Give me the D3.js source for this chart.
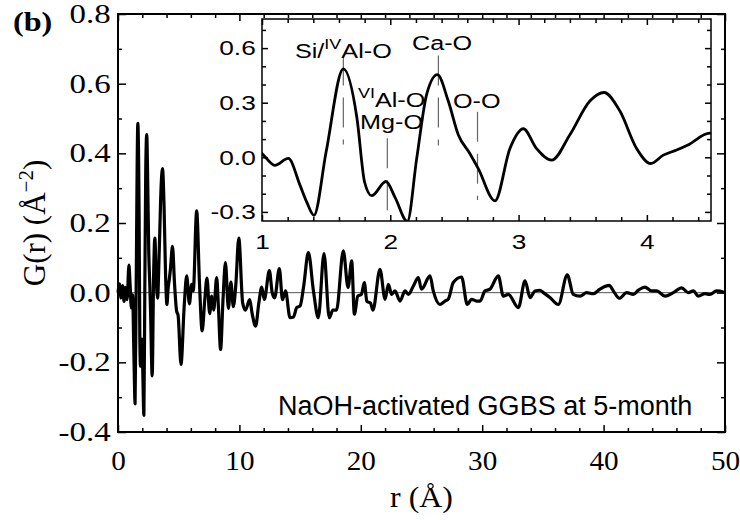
<!DOCTYPE html>
<html>
<head>
<meta charset="utf-8">
<script src="https://cdn.jsdelivr.net/npm/d3@7"></script>
<style>
  body { margin: 0; background: #fff; }
  svg { display: block; }
</style>
</head>
<body>
<svg id="chart" width="740" height="520"></svg>
<script>

// G(r): r in Angstrom, G in A^-2
var rVals = [0, 0.12, 0.25, 0.38, 0.5, 0.62, 0.75, 0.9, 1.0, 1.1, 1.205, 1.296, 1.348, 1.405, 1.5, 1.634, 1.74, 1.8, 1.855, 1.966,
  2.037, 2.133, 2.206, 2.284, 2.367, 2.452, 2.53, 2.62, 2.686, 2.816, 2.933, 3.037, 3.139, 3.258, 3.4, 3.556, 3.666, 3.79, 3.92, 4.03,
  4.128, 4.232, 4.32, 4.49, 4.65, 4.83, 4.95, 5.19, 5.45, 5.66, 5.88, 6.07, 6.2, 6.48, 6.72, 6.93, 7.15, 7.33, 7.55, 7.72,
  7.88, 8.13, 8.27, 8.45, 8.65, 8.85, 9.09, 9.3, 9.5, 9.7, 9.95, 10.27, 10.5, 10.85, 11.05, 11.34, 11.6, 11.84, 12.05, 12.47,
  12.7, 12.9, 13.29, 13.55, 13.8, 14.17, 14.45, 14.72, 15.0, 15.3, 15.68, 16.1, 16.5, 16.97, 17.4, 17.7, 18.0, 18.56, 18.95, 19.25,
  19.47, 19.75, 20.05, 20.29, 20.5, 20.8, 21.0, 21.58, 22.0, 22.27, 22.54, 22.82, 23.23, 23.64, 23.92, 24.33, 24.74, 25.0, 25.7, 25.97,
  26.52, 26.94, 27.2, 27.62, 28.3, 28.77, 29.13, 29.54, 29.82, 30.23, 30.64, 31.33, 31.74, 32.15, 32.98, 33.53, 33.94, 34.35, 34.76, 35.04,
  35.58, 36.27, 37.01, 37.5, 38.06, 38.6, 39.15, 39.7, 40.46, 40.8, 41.3, 41.9, 42.45, 42.9, 43.4, 43.96, 44.37, 45.06, 45.74, 46.43,
  46.98, 47.4, 47.8, 48.35, 48.76, 49.3, 49.86, 50];
var gVals = [0, 0.025, -0.015, 0.02, -0.025, 0.015, -0.02, 0.079, 0.021, -0.044, -0.006, -0.153, -0.245, -0.319, 0.03, 0.486, 0.216, -0.137, -0.211, -0.133,
  -0.22, -0.352, -0.006, 0.347, 0.454, 0.309, 0.124, 0.021, -0.062, -0.239, 0.049, 0.157, 0.049, -0.016, 0.124, 0.309, 0.356, 0.254, 0.049, -0.034,
  0.012, 0.04, 0.068, 0.133, 0.03, -0.053, -0.065, -0.206, -0.04, 0.048, -0.032, 0.024, 0.005, 0.235, 0.02, -0.11, -0.02, 0.042, -0.06, -0.01,
  -0.05, 0.043, -0.04, -0.163, -0.02, 0.086, -0.045, 0.03, -0.04, 0.02, 0.157, -0.03, -0.05, -0.02, -0.06, -0.096, -0.03, 0.016, -0.02, 0.063,
  0.0, -0.015, 0.069, -0.02, 0.005, -0.072, -0.07, -0.043, -0.038, 0.02, 0.115, 0.005, -0.072, 0.112, -0.072, -0.05, -0.05, 0.12, 0.015, 0.091,
  -0.062, -0.01, -0.005, 0.029, -0.025, -0.03, -0.05, 0.067, -0.019, 0.024, -0.005, 0.005, -0.024, 0.005, -0.005, 0.019, 0.043, 0.01, 0.048, 0.005,
  -0.034, -0.024, -0.019, 0.029, 0.045, -0.034, -0.019, -0.024, -0.024, 0.005, 0.01, 0.048, -0.01, -0.005, -0.043, 0.034, -0.014, 0.005, 0.007, 0.0,
  -0.014, -0.034, 0.051, -0.005, -0.01, 0.0, -0.003, 0.01, 0.021, 0.005, -0.016, 0.0, -0.005, 0.008, 0.016, 0.005, 0.005, -0.01, 0.0, 0.014,
  0.0, 0.005, -0.01, -0.003, -0.005, 0.005, 0.002, 0];

var xTickVals = [0, 10, 20, 30, 40, 50];
var yTickVals = [-0.4, -0.2, 0, 0.2, 0.4, 0.6, 0.8];
var insetXTickVals = [1, 2, 3, 4];
var insetYTickVals = [-0.3, 0, 0.3, 0.6];

// bond markers in the inset (dashed lines)
var bondR      = [1.634, 1.977, 2.375, 2.68];
var bondTop    = [0.56, 0.105, 0.56, 0.25];
var bondBottom = [0.07, -0.35, 0.065, -0.235];

// inset labels, ^...^ is superscript
var labelText = ['Si/^IV^Al-O', '^VI^Al-O', 'Mg-O', 'Ca-O', 'O-O'];
var labelR    = [1.257, 1.748, 1.764, 2.169, 2.489];
var labelG    = [0.546, 0.278, 0.158, 0.59, 0.271];

var sampleText = 'NaOH-activated GGBS at 5-month';

var data = rVals.map(function(r, i) { return { r: r, g: gVals[i] }; });

var svg = d3.select('#chart');
var serif = '"Liberation Serif", "Times New Roman", serif';
var sans = '"Liberation Sans", Arial, Helvetica, sans-serif';

// plain hyphen for negatives, like the original figure
var fmt1 = function(v) { return d3.format('.1f')(v).replace('−', '-'); };

/* ======================================
 * Main plot
 */
var x = d3.scaleLinear().domain([0, 50]).range([118, 725]);
var y = d3.scaleLinear().domain([-0.4, 0.8]).range([432, 14]);

var xMinor = d3.range(0, 50.001, 2).filter(function(v) { return v % 10 !== 0; });
var yMinor = d3.range(-0.3, 0.8, 0.2).map(function(v) { return +v.toFixed(1); });

function drawAxis(axis, transform, fontSize, k, family) {
  var g = svg.append('g').attr('transform', transform).call(axis);
  g.select('.domain').remove();
  g.selectAll('line').attr('stroke', '#000').attr('stroke-width', 1.5);
  g.selectAll('text')
    .attr('fill', '#000')
    .style('font-family', family)
    .style('font-size', fontSize + 'px')
    .attr('transform', 'scale(' + k + ',1)');
  return g;
}

var mainFont = 27, mainK = 1.22;

drawAxis(d3.axisBottom(x).tickValues(xTickVals).tickSizeInner(-7).tickSizeOuter(0).tickPadding(19)
  .tickFormat(d3.format('d')), 'translate(0,' + y(-0.4) + ')', mainFont, 1.08, serif);
drawAxis(d3.axisBottom(x).tickValues(xMinor).tickSizeInner(-4).tickSizeOuter(0).tickFormat(''),
  'translate(0,' + y(-0.4) + ')', mainFont, 1, serif);
drawAxis(d3.axisTop(x).tickValues(xTickVals).tickSizeInner(-7).tickSizeOuter(0).tickFormat(''),
  'translate(0,' + y(0.8) + ')', mainFont, 1, serif);
drawAxis(d3.axisTop(x).tickValues(xMinor).tickSizeInner(-4).tickSizeOuter(0).tickFormat(''),
  'translate(0,' + y(0.8) + ')', mainFont, 1, serif);

drawAxis(d3.axisLeft(y).tickValues(yTickVals).tickSizeInner(-8).tickSizeOuter(0).tickPadding(6)
  .tickFormat(fmt1), 'translate(' + x(0) + ',0)', mainFont, mainK, serif);
drawAxis(d3.axisLeft(y).tickValues(yMinor).tickSizeInner(-4).tickSizeOuter(0).tickFormat(''),
  'translate(' + x(0) + ',0)', mainFont, 1, serif);
drawAxis(d3.axisRight(y).tickValues(yTickVals).tickSizeInner(-8).tickSizeOuter(0).tickFormat(''),
  'translate(' + x(50) + ',0)', mainFont, 1, serif);
drawAxis(d3.axisRight(y).tickValues(yMinor).tickSizeInner(-4).tickSizeOuter(0).tickFormat(''),
  'translate(' + x(50) + ',0)', mainFont, 1, serif);

// zero line
svg.append('line')
  .attr('x1', x(0)).attr('x2', x(50))
  .attr('y1', y(0)).attr('y2', y(0))
  .attr('stroke', '#555').attr('stroke-width', 1);

var mainLine = d3.line()
  .x(function(d) { return x(d.r); })
  .y(function(d) { return y(d.g); })
  .curve(d3.curveMonotoneX);

svg.append('path')
  .datum(data)
  .attr('d', mainLine)
  .attr('fill', 'none')
  .attr('stroke', '#000')
  .attr('stroke-width', 3.2)
  .attr('stroke-linejoin', 'round');

svg.append('rect')
  .attr('x', x(0)).attr('y', y(0.8))
  .attr('width', x(50) - x(0)).attr('height', y(-0.4) - y(0.8))
  .attr('fill', 'none').attr('stroke', '#000').attr('stroke-width', 2);

// axis titles
svg.append('text')
  .attr('transform', 'translate(' + ((x(0) + x(50)) / 2) + ',507) scale(1.1,1)')
  .attr('text-anchor', 'middle')
  .style('font-family', serif).style('font-size', '29px')
  .text('r (Å)');

var yTitle = svg.append('text')
  .attr('transform', 'translate(45,' + ((y(0.8) + y(-0.4)) / 2) + ') rotate(-90)')
  .attr('text-anchor', 'middle')
  .style('font-family', serif).style('font-size', '31px');
yTitle.append('tspan').text('G(r)  (Å');
yTitle.append('tspan').attr('dy', -12).style('font-size', '21px').text('−2');
yTitle.append('tspan').attr('dy', 12).text(')');

svg.append('text')
  .attr('transform', 'translate(13,31) scale(1.15,1)')
  .style('font-family', serif).style('font-size', '28px').style('font-weight', 'bold')
  .text('(b)');

svg.append('text')
  .attr('transform', 'translate(' + x(47.3) + ',' + y(-0.352) + ')')
  .attr('text-anchor', 'end')
  .style('font-family', sans).style('font-size', '27px')
  .text(sampleText);

/* ======================================
 * Inset: 1 - 4.5 A
 */
var xi = d3.scaleLinear().domain([1, 4.5]).range([262, 711]);
var yi = d3.scaleLinear().domain([-0.35, 0.76]).range([221, 19]);

var xiMinor = d3.range(1, 4.501, 0.2).map(function(v) { return +v.toFixed(1); })
  .filter(function(v) { return v % 1 !== 0; });
var yiMinor = d3.range(-0.3, 0.75, 0.1).map(function(v) { return +v.toFixed(1); })
  .filter(function(v) { return Math.abs(Math.round(v * 10) % 3) !== 0; });

svg.append('rect')
  .attr('x', xi(1)).attr('y', yi(0.76))
  .attr('width', xi(4.5) - xi(1)).attr('height', yi(-0.35) - yi(0.76))
  .attr('fill', '#fff');

svg.append('clipPath').attr('id', 'inset-clip')
  .append('rect')
  .attr('x', xi(1)).attr('y', yi(0.76))
  .attr('width', xi(4.5) - xi(1)).attr('height', yi(-0.35) - yi(0.76));

var insetFont = 21, insetK = 1.25;

drawAxis(d3.axisBottom(xi).tickValues(insetXTickVals).tickSizeInner(-6).tickSizeOuter(0).tickPadding(13)
  .tickFormat(d3.format('d')), 'translate(0,' + yi(-0.35) + ')', insetFont, insetK, sans);
drawAxis(d3.axisBottom(xi).tickValues(xiMinor).tickSizeInner(-4).tickSizeOuter(0).tickFormat(''),
  'translate(0,' + yi(-0.35) + ')', insetFont, 1, sans);
drawAxis(d3.axisTop(xi).tickValues(insetXTickVals).tickSizeInner(-6).tickSizeOuter(0).tickFormat(''),
  'translate(0,' + yi(0.76) + ')', insetFont, 1, sans);
drawAxis(d3.axisTop(xi).tickValues(xiMinor).tickSizeInner(-4).tickSizeOuter(0).tickFormat(''),
  'translate(0,' + yi(0.76) + ')', insetFont, 1, sans);
drawAxis(d3.axisLeft(yi).tickValues(insetYTickVals).tickSizeInner(-6).tickSizeOuter(0).tickPadding(5)
  .tickFormat(fmt1), 'translate(' + xi(1) + ',0)', insetFont, insetK, sans);
drawAxis(d3.axisLeft(yi).tickValues(yiMinor).tickSizeInner(-4).tickSizeOuter(0).tickFormat(''),
  'translate(' + xi(1) + ',0)', insetFont, 1, sans);
drawAxis(d3.axisRight(yi).tickValues(insetYTickVals).tickSizeInner(-6).tickSizeOuter(0).tickFormat(''),
  'translate(' + xi(4.5) + ',0)', insetFont, 1, sans);
drawAxis(d3.axisRight(yi).tickValues(yiMinor).tickSizeInner(-4).tickSizeOuter(0).tickFormat(''),
  'translate(' + xi(4.5) + ',0)', insetFont, 1, sans);

// bond markers
svg.append('g').selectAll('line')
  .data(bondR)
  .join('line')
  .attr('x1', function(d) { return xi(d); })
  .attr('x2', function(d) { return xi(d); })
  .attr('y1', function(d, i) { return yi(bondTop[i]); })
  .attr('y2', function(d, i) { return yi(bondBottom[i]); })
  .attr('stroke', '#666')
  .attr('stroke-width', 1.2)
  .attr('stroke-dasharray', '30,12');

var insetLine = d3.line()
  .x(function(d) { return xi(d.r); })
  .y(function(d) { return yi(d.g); })
  .curve(d3.curveMonotoneX);

svg.append('path')
  .datum(data.filter(function(d) { return d.r >= 0.9 && d.r <= 4.7; }))
  .attr('clip-path', 'url(#inset-clip)')
  .attr('d', insetLine)
  .attr('fill', 'none')
  .attr('stroke', '#000')
  .attr('stroke-width', 2.8)
  .attr('stroke-linejoin', 'round');

svg.append('rect')
  .attr('x', xi(1)).attr('y', yi(0.76))
  .attr('width', xi(4.5) - xi(1)).attr('height', yi(-0.35) - yi(0.76))
  .attr('fill', 'none').attr('stroke', '#000').attr('stroke-width', 1.5);

// bond labels
labelText.forEach(function(t, i) {
  var txt = svg.append('text')
    .attr('transform', 'translate(' + xi(labelR[i]) + ',' + yi(labelG[i]) + ') scale(1.2,1)')
    .style('font-family', sans).style('font-size', '21px');
  var shifted = false;
  t.split('^').forEach(function(part, j) {
    if (!part) { shifted = (j % 2 === 1); return; }
    var sp = txt.append('tspan').text(part);
    if (j % 2 === 1) {
      sp.attr('dy', -9).style('font-size', '15px');
      shifted = true;
    } else if (shifted) {
      sp.attr('dy', 9);
      shifted = false;
    }
  });
});

</script>
</body>
</html>
